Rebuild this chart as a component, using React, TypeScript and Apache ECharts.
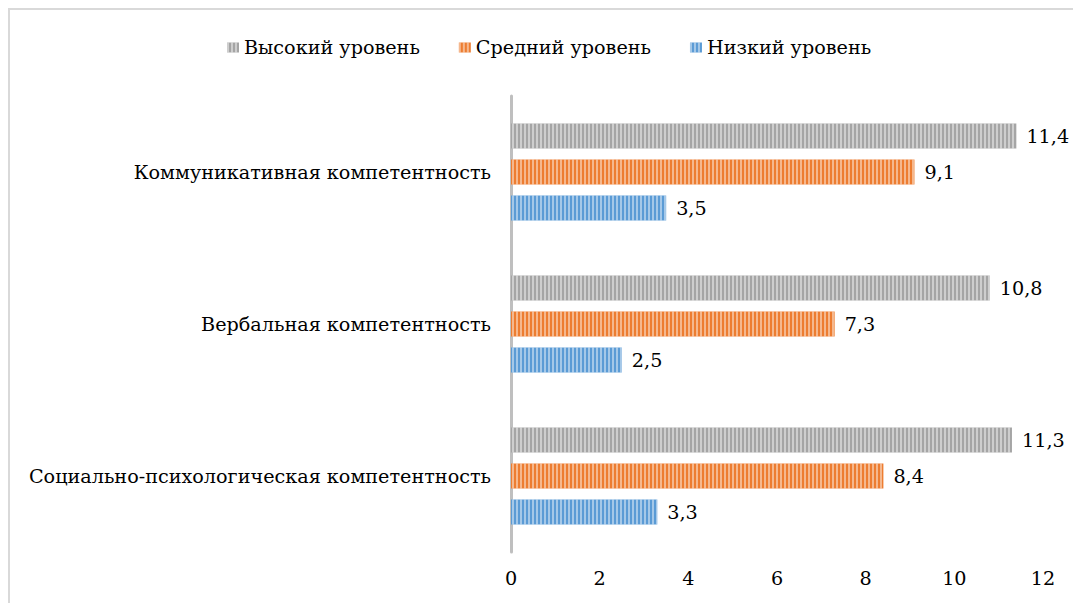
import React, { useEffect, useRef } from "react";
import * as echarts from "echarts";

const categories = [
  "Коммуникативная компетентность",
  "Вербальная компетентность",
  "Социально-психологическая компетентность",
];
const seriesNames = ["Высокий уровень", "Средний уровень", "Низкий уровень"];
const highValues = [11.4, 10.8, 11.3];
const midValues = [9.1, 7.3, 8.4];
const lowValues = [3.5, 2.5, 3.3];
const xTicks = { min: 0, max: 12, interval: 2 };

const FONT = "DejaVu Serif";
const FS = 19.2;

export default function App() {
  const ref = useRef<HTMLDivElement>(null);
  useEffect(() => {
    if (!ref.current) return;
    const chart = echarts.init(ref.current, undefined, { renderer: "svg" });
    const colors = ["#a5a5a5", "#ed7d31", "#5b9bd5"];
    const values = [highValues, midValues, lowValues];
    const decal = {
      symbol: "rect",
      symbolSize: 1,
      dashArrayX: [2, 2],
      dashArrayY: [4, 0],
      rotation: 0,
      color: "rgba(255,255,255,0.45)",
    };
    chart.setOption({
      animation: false,
      aria: { enabled: true, decal: { show: true } },
      graphic: [
        {
          type: "rect",
          shape: { x: 9, y: 9, width: 1200, height: 800 },
          style: { fill: "none", stroke: "#d9d9d9", lineWidth: 2 },
          silent: true,
        },
      ],
      legend: {
        data: seriesNames,
        left: 222,
        top: 33,
        itemWidth: 12,
        itemHeight: 10,
        itemGap: 39,
        icon: "rect",
        textStyle: { fontFamily: FONT, fontSize: FS, color: "#000" },
      },
      grid: { left: 511, right: 30, top: 96, bottom: 51, containLabel: false },
      xAxis: {
        type: "value",
        min: xTicks.min,
        max: xTicks.max,
        interval: xTicks.interval,
        axisLine: { show: false },
        axisTick: { show: false },
        splitLine: { show: false },
        axisLabel: { fontFamily: FONT, fontSize: FS, color: "#000", margin: 17 },
      },
      yAxis: {
        type: "category",
        inverse: true,
        data: categories,
        axisLine: { show: true, lineStyle: { color: "#bfbfbf", width: 3 } },
        axisTick: { show: false },
        axisLabel: { fontFamily: FONT, fontSize: FS, color: "#000", margin: 20 },
      },
      series: seriesNames.map((name, i) => ({
        name,
        type: "bar",
        data: values[i],
        barWidth: 25,
        barGap: "44%",
        itemStyle: { color: colors[i], decal },
        label: {
          show: true,
          position: "right",
          distance: 10,
          fontFamily: FONT,
          fontSize: FS,
          color: "#000",
          formatter: (p: any) => String(p.value).replace(".", ","),
        },
      })),
    });
    return () => chart.dispose();
  }, []);
  return (
    <div
      ref={ref}
      style={{ position: "absolute", left: 0, top: 0, width: 1073, height: 603, background: "#fff" }}
    />
  );
}
